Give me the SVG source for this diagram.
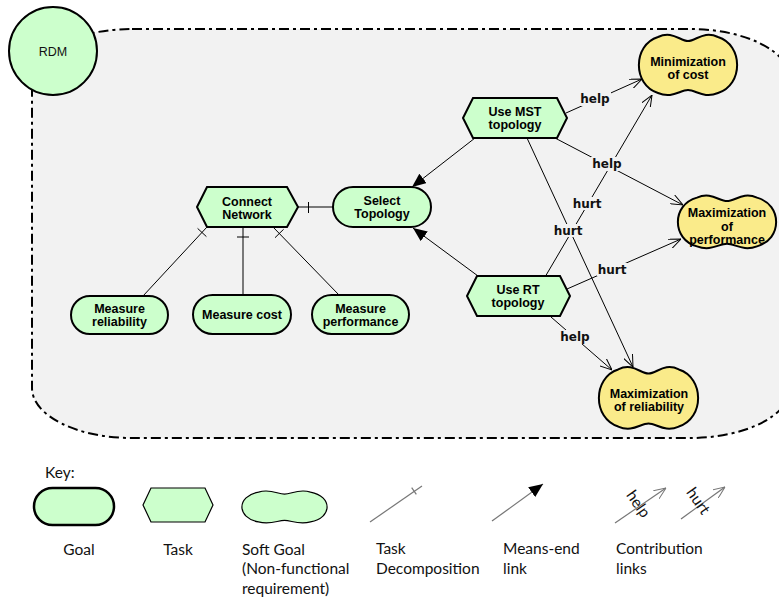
<svg xmlns="http://www.w3.org/2000/svg" width="779" height="601" viewBox="0 0 779 601">
<style>
.goal{fill:#ccffcc;stroke:#000;stroke-width:2}
.soft{fill:#faeb8a;stroke:#000;stroke-width:2}
.nt{font-family:"Liberation Sans",Arial,sans-serif;font-weight:bold;font-size:12.5px;fill:#000;text-anchor:middle}
.lbl{font-family:"DejaVu Sans",Verdana,sans-serif;font-weight:bold;font-size:12px;fill:#111;text-anchor:middle}
.lblbg{fill:#f2f2f2}
.ln{stroke:#000;stroke-width:1;fill:none}
.key{font-family:Lato,"Open Sans",sans-serif;font-size:15.5px;fill:#111}
.kl{stroke:#777;stroke-width:1.2;fill:none}
</style>
<defs>
<path id="sg" d="M-30,-28 C-16,-35 -8,-24 0,-24 C8,-24 16,-35 30,-28 C55.5,-20 55.5,20 30,28 C16,34 8,25 0,25 C-8,25 -16,34 -30,28 C-55.5,20 -55.5,-20 -30,-28 Z" vector-effect="non-scaling-stroke"/>
<marker id="open" viewBox="0 0 12 10" refX="12" refY="5" markerWidth="12" markerHeight="10" markerUnits="userSpaceOnUse" orient="auto">
<path d="M0,0 L12,5 L0,10" fill="none" stroke="#000" stroke-width="1"/>
</marker>
<marker id="openg" viewBox="0 0 12 10" refX="12" refY="5" markerWidth="12" markerHeight="10" markerUnits="userSpaceOnUse" orient="auto">
<path d="M0,0 L12,5 L0,10" fill="none" stroke="#777" stroke-width="1"/>
</marker>
<marker id="filled" viewBox="0 0 14 12" refX="14" refY="6" markerWidth="14" markerHeight="12" markerUnits="userSpaceOnUse" orient="auto">
<path d="M0,0 L14,6 L0,12 Z" fill="#000"/>
</marker>
</defs>
<rect width="779" height="601" fill="#fff"/>
<g id="boundary">
<rect x="32" y="29" width="758" height="409" rx="100" ry="50" fill="#f2f2f2" stroke="#000" stroke-width="2" stroke-dasharray="10,4,3,4"/>
</g>
<g id="connectors">
<line class="ln" x1="298" y1="207" x2="333" y2="207"/>
<line class="ln" x1="308.5" y1="202" x2="308.5" y2="213"/>
<line class="ln" x1="143" y1="296" x2="207" y2="227"/>
<line class="ln" x1="197.6" y1="228.4" x2="206.4" y2="236.6"/>
<line class="ln" x1="243" y1="295" x2="243" y2="227"/>
<line class="ln" x1="237" y1="237" x2="249" y2="237"/>
<line class="ln" x1="339" y1="295" x2="273" y2="227"/>
<line class="ln" x1="275" y1="237.7" x2="283.6" y2="229.3"/>
<line class="ln" x1="475" y1="138" x2="412" y2="187" marker-end="url(#filled)"/>
<line class="ln" x1="478" y1="276" x2="413" y2="228" marker-end="url(#filled)"/>
<line class="ln" x1="566" y1="113" x2="642" y2="79" marker-end="url(#open)"/>
<line class="ln" x1="555" y1="138" x2="683" y2="205" marker-end="url(#open)"/>
<line class="ln" x1="527" y1="138" x2="633" y2="367" marker-end="url(#open)"/>
<line class="ln" x1="545" y1="277" x2="652" y2="95" marker-end="url(#open)"/>
<line class="ln" x1="567" y1="289" x2="681" y2="239" marker-end="url(#open)"/>
<line class="ln" x1="551" y1="317" x2="612" y2="370" marker-end="url(#open)"/>
<rect class="lblbg" x="579" y="92" width="32" height="14"/>
<text class="lbl" x="595" y="103">help</text>
<rect class="lblbg" x="591" y="157" width="32" height="14"/>
<text class="lbl" x="607" y="168">help</text>
<rect class="lblbg" x="572" y="197" width="30" height="13"/>
<text class="lbl" x="587" y="208">hurt</text>
<rect class="lblbg" x="553" y="224" width="30" height="13"/>
<text class="lbl" x="568" y="235">hurt</text>
<rect class="lblbg" x="597" y="263" width="30" height="13"/>
<text class="lbl" x="612" y="274">hurt</text>
<rect class="lblbg" x="559" y="330" width="32" height="14"/>
<text class="lbl" x="575" y="341">help</text>
</g>
<g id="rdm">
<circle cx="53" cy="51" r="44" fill="#ccffcc" stroke="#000" stroke-width="2"/>
<text x="53" y="56" font-family="Liberation Sans,Arial,sans-serif" font-size="12.5" fill="#111" text-anchor="middle">RDM</text>
</g>
<g id="connect-network">
<polygon class="goal" points="197,207 207,187 287,187 298,207 287,227 207,227"/>
<text class="nt" x="247" y="205.5">Connect</text>
<text class="nt" x="247" y="219">Network</text>
</g>
<g id="select-topology">
<rect class="goal" x="333" y="187" width="98" height="40" rx="20"/>
<text class="nt" x="382" y="204.5">Select</text>
<text class="nt" x="382" y="218">Topology</text>
</g>
<g id="use-mst">
<polygon class="goal" points="463,118 473,98 557,98 567,118 557,138 473,138"/>
<text class="nt" x="515" y="115.5">Use MST</text>
<text class="nt" x="515" y="129">topology</text>
</g>
<g id="use-rt">
<polygon class="goal" points="467,296 477,276 560,276 570,296 560,316 477,316"/>
<text class="nt" x="518" y="293.5">Use RT</text>
<text class="nt" x="518" y="307">topology</text>
</g>
<g id="measure-reliability">
<rect class="goal" x="71" y="296" width="97" height="38" rx="19"/>
<text class="nt" x="119.5" y="312.5">Measure</text>
<text class="nt" x="119.5" y="326">reliability</text>
</g>
<g id="measure-cost">
<rect class="goal" x="193" y="295" width="98" height="39" rx="19.5"/>
<text class="nt" x="242" y="319">Measure cost</text>
</g>
<g id="measure-performance">
<rect class="goal" x="312" y="295" width="97" height="39" rx="19.5"/>
<text class="nt" x="360.5" y="312.5">Measure</text>
<text class="nt" x="360.5" y="326">performance</text>
</g>
<g id="min-cost">
<use href="#sg" class="soft" transform="translate(688,65)"/>
<text class="nt" x="688" y="65.5">Minimization</text>
<text class="nt" x="688" y="79">of cost</text>
</g>
<g id="max-performance">
<use href="#sg" class="soft" transform="translate(727,222) scale(1,0.87)"/>
<text class="nt" x="727" y="217">Maximization</text>
<text class="nt" x="727" y="230.5">of</text>
<text class="nt" x="727" y="244">performance</text>
</g>
<g id="max-reliability">
<use href="#sg" class="soft" transform="translate(648.5,398) scale(1.01,1.02)"/>
<text class="nt" x="649" y="397.5">Maximization</text>
<text class="nt" x="649" y="411">of reliability</text>
</g>
<g id="key">
<text class="key" x="45" y="478">Key:</text>
<rect x="34" y="488" width="80" height="37" rx="18.5" fill="#ccffcc" stroke="#000" stroke-width="2.5"/>
<polygon points="143,505 151,488 205,488 213,505 205,522 151,522" fill="#ccffcc" stroke="#000" stroke-width="1.2"/>
<use href="#sg" transform="translate(284.5,507) scale(0.867,0.533)" fill="#ccffcc" stroke="#000" stroke-width="1.2"/>
<text class="key" x="79" y="555" text-anchor="middle">Goal</text>
<text class="key" x="178" y="555" text-anchor="middle">Task</text>
<text class="key" x="242" y="555">Soft Goal</text>
<text class="key" x="242" y="574">(Non-functional</text>
<text class="key" x="242" y="594">requirement)</text>
<line class="kl" x1="370" y1="522" x2="422" y2="486"/>
<line class="kl" x1="411.7" y1="487.7" x2="416.3" y2="494.3"/>
<line class="kl" x1="492" y1="521" x2="543" y2="484" marker-end="url(#filled)"/>
<line class="kl" x1="615" y1="523" x2="666" y2="488" marker-end="url(#openg)"/>
<line class="kl" x1="681" y1="519" x2="725" y2="487" marker-end="url(#openg)"/>
<text class="key" x="0" y="0" text-anchor="middle" font-size="14.5" transform="translate(634,507) rotate(55)">help</text>
<text class="key" x="0" y="0" text-anchor="middle" font-size="14.5" transform="translate(694,504) rotate(55)">hurt</text>
<text class="key" x="376" y="554">Task</text>
<text class="key" x="376" y="574">Decomposition</text>
<text class="key" x="503" y="554">Means-end</text>
<text class="key" x="503" y="574">link</text>
<text class="key" x="616" y="554">Contribution</text>
<text class="key" x="616" y="574">links</text>
</g>
</svg>
